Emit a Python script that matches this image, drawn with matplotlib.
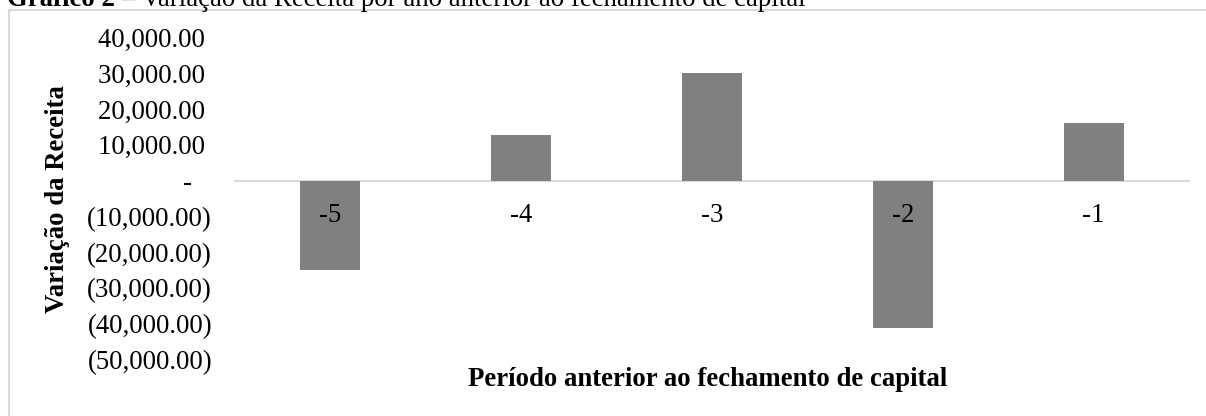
import matplotlib
matplotlib.use("Agg")
import matplotlib.pyplot as plt
import matplotlib as mpl
from matplotlib.patches import Rectangle
from matplotlib.ticker import FuncFormatter

mpl.rcParams['font.family'] = 'Liberation Serif'
mpl.rcParams['axes.unicode_minus'] = False

# Data
periodos = ["-5", "-4", "-3", "-2", "-1"]
variacao = [-25000, 12700, 30000, -41200, 16100]
yticks = [40000, 30000, 20000, 10000, 0, -10000, -20000, -30000, -40000, -50000]

bar_color = '#808080'
line_color = '#d9d9d9'
fs = 19.3


def contabil(v, pos=None):
    # Excel accounting style: (x) for negatives, "-" for zero
    if v == 0:
        return "-   "
    if v < 0:
        return "({:,.2f})".format(-v)
    return "{:,.2f} ".format(v)


fig = plt.figure(figsize=(12.06, 4.16), dpi=100)
W, H = 1206, 416

# outer chart border (only top and left show)
fig.patches.append(Rectangle((9 / W, -0.5), 2, 0.5 + 1 - 10 / H, transform=fig.transFigure,
                             fill=False, edgecolor=line_color, lw=1.5))

# caption, partly cut by the top edge
t1 = fig.text(7 / W, 1 - 6 / H, "Gráfico 2", fontsize=fs, fontweight='bold',
              va='baseline', ha='left')
fig.canvas.draw()
x_end = t1.get_window_extent().x1 / W
fig.text(x_end, 1 - 6 / H, " – Variação da Receita por ano anterior ao fechamento de capital",
         fontsize=fs, va='baseline', ha='left')

ax = fig.add_axes([235 / W, 1 - 359.5 / H, (1189 - 235) / W, (359.5 - 37.5) / H])
x = range(len(periodos))
ax.bar(x, variacao, width=0.314, color=bar_color, zorder=1)

ax.set_xlim(-0.5, len(periodos) - 0.5)
ax.set_ylim(-50000, 40000)
ax.set_yticks(yticks)
ax.yaxis.set_major_formatter(FuncFormatter(contabil))
ax.set_xticks(list(x))
ax.set_xticklabels(periodos)

for s in ['top', 'right', 'left']:
    ax.spines[s].set_visible(False)
ax.spines['bottom'].set_position(('data', 0))
ax.spines['bottom'].set_color(line_color)
ax.spines['bottom'].set_linewidth(1.5)
ax.spines['bottom'].set_zorder(0.5)

ax.tick_params(axis='both', length=0, labelsize=fs)
ax.tick_params(axis='x', pad=16)
ax.tick_params(axis='y', pad=16.5)

fig.text(58 / W, 1 - 199 / H, "Variação da Receita", rotation=90, fontsize=fs,
         fontweight='bold', ha='center', va='center')
fig.text(708 / W, 1 - 379 / H, "Período anterior ao fechamento de capital", fontsize=fs,
         fontweight='bold', ha='center', va='center')

fig.savefig("out.png", dpi=100)
